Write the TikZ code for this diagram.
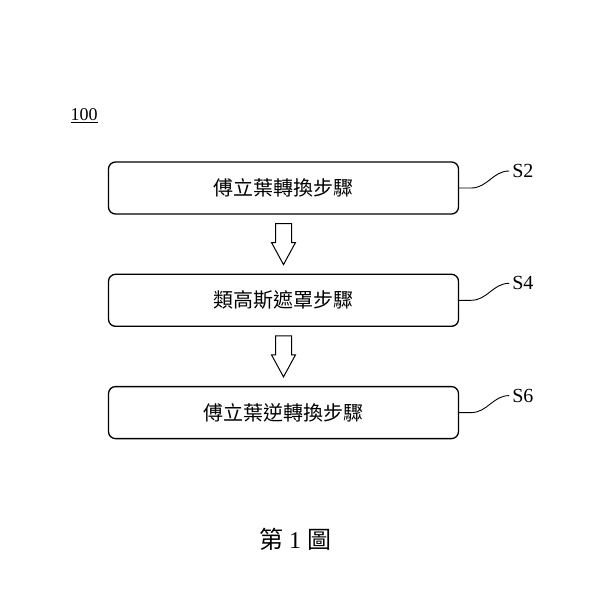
\documentclass[tikz,border=0pt]{standalone}
\usepackage{fontspec}
\setmainfont{Liberation Serif}
\newfontfamily\cjk{Noto Sans CJK TC}
\usepackage{tikz}
\usetikzlibrary{positioning,shapes.arrows,calc}

\begin{document}
\begin{tikzpicture}[
    x=1pt, y=-1pt,
    block/.style={draw, rounded corners=7pt, line width=1.3pt, align=center, minimum width=350pt, minimum height=52pt, font=\cjk\fontsize{20}{24}\selectfont},
    hollowarrow/.style={single arrow, draw, line width=1pt, rotate=-90, inner xsep=0pt, inner ysep=7.5pt, minimum height=41pt, single arrow head extend=4pt, single arrow tip angle=57, anchor=tip},
    steplabel/.style={anchor=west, inner sep=3pt, font=\fontsize{20}{22}\selectfont},
    leader/.style={line width=0.9pt}
]
\useasboundingbox (0,0) rectangle (600,609);

\node[font=\fontsize{18}{20}\selectfont] (figno) at (84,116) {\underline{100}};

\node[block] (fourier) at (283.5,188) {傅立葉轉換步驟};
\node[block, below=59pt of fourier] (gauss) {類高斯遮罩步驟};
\node[block, below=59pt of gauss] (inverse) {傅立葉逆轉換步驟};

\node[hollowarrow] (arrowa) at ($(gauss.north)+(0pt,8pt)$) {};
\node[hollowarrow] (arrowb) at ($(inverse.north)+(0pt,8pt)$) {};

\node[steplabel] (stwo) at ($(fourier.east)+(50pt,17pt)$) {S2};
\node[steplabel] (sfour) at ($(gauss.east)+(50pt,17pt)$) {S4};
\node[steplabel] (ssix) at ($(inverse.east)+(50pt,17pt)$) {S6};

\draw[leader] (fourier.east) -- ++(12,0) to[out=0, in=180] (stwo.west);
\draw[leader] (gauss.east) -- ++(12,0) to[out=0, in=180] (sfour.west);
\draw[leader] (inverse.east) -- ++(12,0) to[out=0, in=180] (ssix.west);

\node[font=\fontsize{24}{28}\selectfont] (caption) at (295,539) {{\cjk 第} 1 {\cjk 圖}};
\end{tikzpicture}
\end{document}
